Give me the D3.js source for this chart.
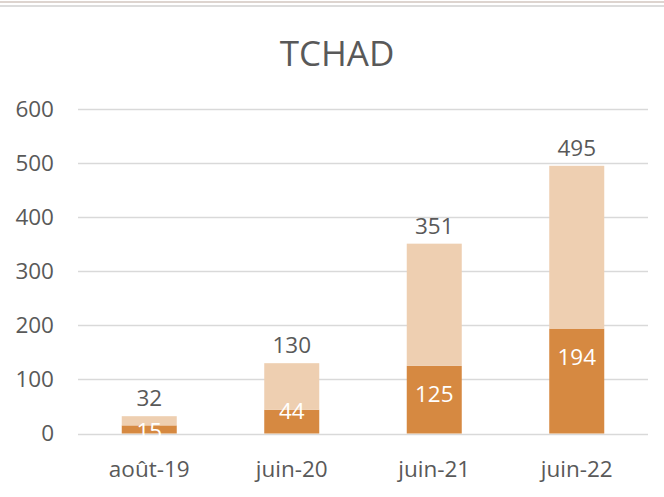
<!DOCTYPE html>
<html>
<head>
<meta charset="utf-8">
<script src="https://cdn.jsdelivr.net/npm/d3@7"></script>
<style>
  html, body { margin: 0; padding: 0; background: #fff; }
  svg { display: block; }
</style>
</head>
<body>
<svg id="chart" width="664" height="497"></svg>
<script>
const title = "TCHAD";
const categories = ["août-19", "juin-20", "juin-21", "juin-22"];
const baseValues = [15, 44, 125, 194];      // dark segment
const totals = [32, 130, 351, 495];          // total (top label)
const restValues = totals.map((t, i) => t - baseValues[i]); // light segment
const yTicks = [0, 100, 200, 300, 400, 500, 600];

const W = 664, H = 497;
const margin = { left: 78, right: 16, top: 109, bottom: 63 };
const svg = d3.select("#chart");
const font = "'Open Sans', 'Noto Sans', sans-serif";
const textColor = "#595959";
const fs = 22.5;

// top double border
svg.append("rect").attr("x", 0).attr("y", 1).attr("width", W).attr("height", 2).attr("fill", "#ddd4cf");
svg.append("rect").attr("x", 0).attr("y", 5).attr("width", W).attr("height", 2).attr("fill", "#dcdcdc");

const x = d3.scaleBand().domain(categories).range([margin.left, W - margin.right]).paddingInner(0.614).paddingOuter(0.307);
const y = d3.scaleLinear().domain([0, 600]).range([H - margin.bottom - 0.5, margin.top]);

// gridlines
svg.append("g").selectAll("line").data(yTicks).join("line")
  .attr("x1", margin.left).attr("x2", W - margin.right)
  .attr("y1", d => Math.round(y(d)) + 0.5).attr("y2", d => Math.round(y(d)) + 0.5)
  .attr("stroke", "#d9d9d9").attr("stroke-width", 1.5);

// y axis labels
const yAxis = d3.axisLeft(y).tickValues(yTicks).tickSize(0).tickPadding(0);
const gy = svg.append("g").attr("transform", `translate(${margin.left - 24},0)`).call(yAxis);
gy.select(".domain").remove();
gy.selectAll("text").attr("font-family", font).attr("font-size", fs).attr("fill", textColor);

// stacked data
const stackData = categories.map((c, i) => ({ cat: c, base: baseValues[i], rest: restValues[i] }));
const series = d3.stack().keys(["base", "rest"])(stackData);
const colors = { base: "#d68941", rest: "#eecfb1" };

svg.append("g").selectAll("g").data(series).join("g")
  .attr("fill", d => colors[d.key])
  .selectAll("rect").data(d => d).join("rect")
  .attr("x", d => x(d.data.cat))
  .attr("width", x.bandwidth())
  .attr("y", d => y(d[1]))
  .attr("height", d => y(d[0]) - y(d[1]));

// x axis labels
const xAxis = d3.axisBottom(x).tickSize(0).tickPadding(0);
const gx = svg.append("g").attr("transform", `translate(0,${H - margin.bottom + 27})`).call(xAxis);
gx.select(".domain").remove();
gx.selectAll("text").attr("font-family", font).attr("font-size", fs).attr("fill", textColor).attr("dy", "0.71em");

// total labels
svg.append("g").selectAll("text").data(stackData).join("text")
  .attr("x", (d) => x(d.cat) + x.bandwidth() / 2)
  .attr("y", (d, i) => y(totals[i]) - 10)
  .attr("text-anchor", "middle")
  .attr("font-family", font).attr("font-size", fs).attr("fill", textColor)
  .text((d, i) => totals[i]);

// base labels (inside end)
svg.append("g").selectAll("text").data(stackData).join("text")
  .attr("x", d => x(d.cat) + x.bandwidth() / 2)
  .attr("y", d => {
    const top = y(d.base), h = y(0) - top;
    const cy = h >= 50 ? top + 28 : (h >= 16 ? top + 1 : top + h / 2 + 2);
    return cy + 8;
  })
  .attr("text-anchor", "middle")
  .attr("font-family", font).attr("font-size", fs).attr("fill", "#ffffff")
  .text(d => d.base);

// title
svg.append("text").attr("x", 337).attr("y", 66).attr("text-anchor", "middle")
  .attr("font-family", font).attr("font-size", 35).attr("fill", textColor).text(title);
</script>
</body>
</html>
